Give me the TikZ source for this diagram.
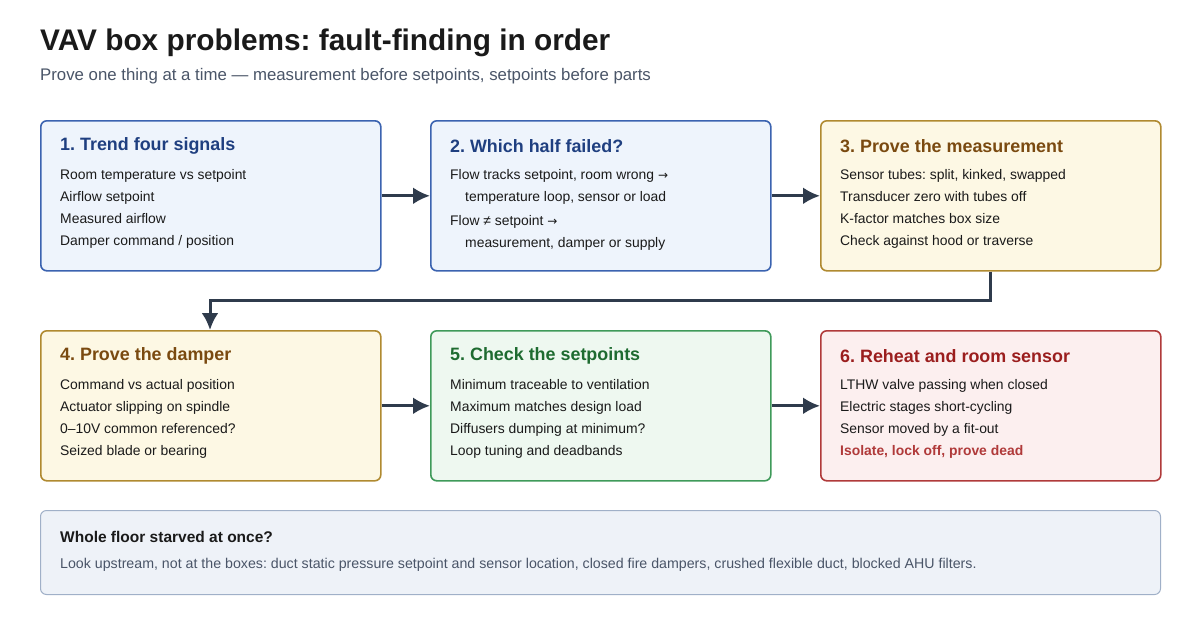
\documentclass[tikz,border=0pt]{standalone}
\usepackage{fontspec}
\setmainfont{Liberation Sans}
\newfontfamily\symfont{DejaVu Sans}
\frenchspacing
\usetikzlibrary{positioning,arrows.meta}
\definecolor{ink}{HTML}{1A1A1A}
\definecolor{subink}{HTML}{4A5568}
\definecolor{arrowc}{HTML}{2F3B4C}
\definecolor{bluefill}{HTML}{EEF4FC}\definecolor{blueline}{HTML}{3B63B0}\definecolor{bluetext}{HTML}{1F3F80}
\definecolor{ambfill}{HTML}{FDF8E4}\definecolor{ambline}{HTML}{B08A30}\definecolor{ambtext}{HTML}{7A4A10}
\definecolor{grnfill}{HTML}{EEF8F0}\definecolor{grnline}{HTML}{3F9A5A}\definecolor{grntext}{HTML}{1E6B30}
\definecolor{redfill}{HTML}{FCEFEF}\definecolor{redline}{HTML}{B03A3A}\definecolor{redtext}{HTML}{9B1E1E}
\definecolor{grayfill}{HTML}{EEF2F8}\definecolor{grayline}{HTML}{A0B0C8}
\newcommand{\rarr}{{\symfont\fontsize{12}{12}\selectfont →}}
\begin{document}
\begin{tikzpicture}
    [x=1pt,y=-1pt,
     box/.style={draw,line width=1.6pt,rounded corners=6pt,minimum width=340pt,minimum height=150pt,anchor=north west},
     head/.style={anchor=west,inner sep=0pt,font=\fontsize{17.9}{20}\selectfont\bfseries},
     body/.style={anchor=north west,align=left,text=ink,font=\fontsize{13.9}{22}\selectfont,inner sep=0pt},
     flow/.style={draw=arrowc,line width=3pt,-{Latex[length=17pt,width=17pt]}}]
    \useasboundingbox (0,0) rectangle (1200,630);
    \fill[white] (0,0) rectangle (1200,630);

    \node[anchor=west,inner sep=0pt,text=ink,font=\fontsize{29.8}{32}\selectfont\bfseries] (title) at (40,43) {VAV box problems: fault-finding in order};
    \node[anchor=west,inner sep=0pt,text=subink,font=\fontsize{16.8}{18}\selectfont] (sub) at (40,76) {Prove one thing at a time — measurement before setpoints, setpoints before parts};

    \node[box,draw=blueline,fill=bluefill] (b1) at (40,120) {};
    \node[box,draw=blueline,fill=bluefill] (b2) at (430,120) {};
    \node[box,draw=ambline,fill=ambfill] (b3) at (820,120) {};
    \node[box,draw=ambline,fill=ambfill] (b4) at (40,330) {};
    \node[box,draw=grnline,fill=grnfill] (b5) at (430,330) {};
    \node[box,draw=redline,fill=redfill] (b6) at (820,330) {};
    \node[box,draw=grayline,fill=grayfill,line width=1pt,minimum width=1120pt,minimum height=84pt] (b7) at (40,510) {};

    \node[head,text=bluetext] (h1) at (60,146) {1. Trend four signals};
    \node[body] (t1) at (60,169) {Room temperature vs setpoint\\Airflow setpoint\\Measured airflow\\Damper command / position};
    \node[head,text=bluetext] (h2) at (450,146) {2. Which half failed?};
    \node[body] (t2) at (450,169) {Flow tracks setpoint, room wrong \rarr\\\hspace*{15pt}temperature loop, sensor or load\\[2pt]Flow ≠ setpoint \rarr\\\hspace*{15pt}measurement, damper or supply};
    \node[head,text=ambtext] (h3) at (840,146) {3. Prove the measurement};
    \node[body] (t3) at (840,169) {Sensor tubes: split, kinked, swapped\\Transducer zero with tubes off\\K-factor matches box size\\Check against hood or traverse};
    \node[head,text=ambtext] (h4) at (60,356) {4. Prove the damper};
    \node[body] (t4) at (60,379) {Command vs actual position\\Actuator slipping on spindle\\0–10V common referenced?\\Seized blade or bearing};
    \node[head,text=grntext] (h5) at (450,356) {5. Check the setpoints};
    \node[body] (t5) at (450,379) {Minimum traceable to ventilation\\Maximum matches design load\\Diffusers dumping at minimum?\\Loop tuning and deadbands};
    \node[head,text=redtext] (h6) at (840,356) {6. Reheat and room sensor};
    \node[body] (t6) at (840,379) {LTHW valve passing when closed\\Electric stages short-cycling\\Sensor moved by a fit-out\\\textcolor{redline}{\bfseries Isolate, lock off, prove dead}};
    \node[anchor=west,inner sep=0pt,text=ink,font=\fontsize{15.5}{18}\selectfont\bfseries] (h7) at (60,537) {Whole floor starved at once?};
    \node[anchor=west,inner sep=0pt,text=subink,font=\fontsize{14.2}{16}\selectfont] (t7) at (60,565) {Look upstream, not at the boxes: duct static pressure setpoint and sensor location, closed fire dampers, crushed flexible duct, blocked AHU filters.};

    \coordinate (c1) at (990,300);
    \coordinate (c2) at (210,300);
    \draw[flow] (b1.east) -- (b2.west);
    \draw[flow] (b2.east) -- (b3.west);
    \draw[flow] (b3.south -| c1) -- (c1) -- (c2) -- (b4.north -| c2);
    \draw[flow] (b4.east) -- (b5.west);
    \draw[flow] (b5.east) -- (b6.west);
\end{tikzpicture}
\end{document}
